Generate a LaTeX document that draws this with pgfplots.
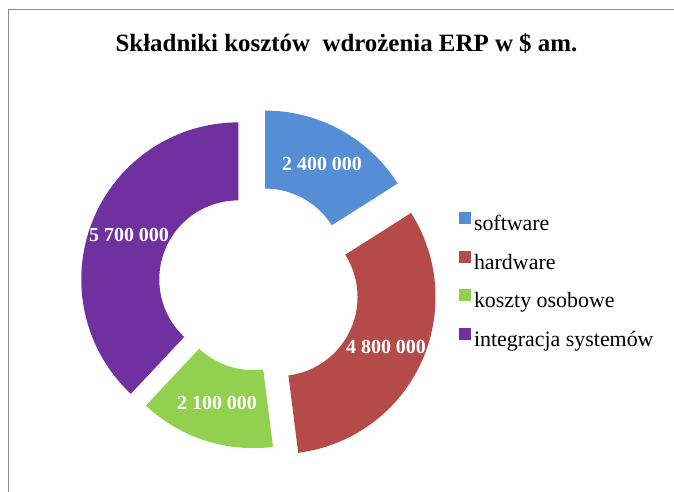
\documentclass[border=0pt]{standalone}
\usepackage{fontspec}
\setmainfont{Liberation Serif}
\usepackage{pgfplots}
\pgfplotsset{compat=1.18}
\definecolor{cSoft}{HTML}{558ED5}
\definecolor{cHard}{HTML}{B54B48}
\definecolor{cOsob}{HTML}{92D050}
\definecolor{cInt}{HTML}{7030A0}
\definecolor{frameGray}{HTML}{8C8C8C}
% data (USD)
\newcommand\vS{2400000}% software
\newcommand\vH{4800000}% hardware
\newcommand\vK{2100000}% koszty osobowe
\newcommand\vI{5700000}% integracja systemow
\newcommand\T{(\vS+\vH+\vK+\vI)}
% geometry (bp)
\newcommand\cx{255}
\newcommand\cy{206}
\newcommand\Ro{157}
\newcommand\Ri{79}
% #1 cumulative before, #2 value, #3 explode, #4 colour, #5 legend text
\newcommand{\slice}[5]{%
\addplot[fill=#4, draw=none, domain=0:2, samples=121,
  legend image code/.code={\fill[#4] (0bp,1bp) rectangle (12bp,13bp);}]
 ({\cx + #3*cos(90-180*(2*(#1)+(#2))/\T) + ifthenelse(x<0.99,\Ro,\Ri)*cos(90-360*((#1)+(#2)*ifthenelse(x<0.99,min(x/0.98,1),2-x))/\T)},
  {\cy + #3*sin(90-180*(2*(#1)+(#2))/\T) + ifthenelse(x<0.99,\Ro,\Ri)*sin(90-360*((#1)+(#2)*ifthenelse(x<0.99,min(x/0.98,1),2-x))/\T)});
\addlegendentry{#5}}
\begin{document}
\begin{tikzpicture}
\path[use as bounding box] (0,0) rectangle (674bp,492bp);
\begin{axis}[
  x=1bp, y=1bp, xmin=0, xmax=674, ymin=0, ymax=492,
  hide axis, clip=false, anchor=south west, at={(0,0)},
  legend cell align=left,
  legend style={at={(axis cs:459,280)}, anchor=north west, draw=none, fill=none,
    inner sep=0pt, outer sep=0pt, font=\fontsize{22}{26}\selectfont,
    row sep=15bp, column sep=3bp,
    nodes={inner sep=0pt, text height=16bp, text depth=5bp}},
]
\slice{0}{\vS}{21}{cSoft}{software}
\slice{\vS}{\vH}{26}{cHard}{hardware}
\slice{\vS+\vH}{\vK}{5.4}{cOsob}{koszty osobowe}
\slice{\vS+\vH+\vK}{\vI}{18}{cInt}{integracja systemów}
\draw[frameGray, line width=1.8bp] (axis cs:8.5,0) -- (axis cs:8.5,482.5) -- (axis cs:674,482.5);
\node[anchor=base, font=\bfseries\fontsize{25}{30}\selectfont] at (axis cs:346.5,440) {Składniki kosztów~ wdrożenia ERP w \$ am.};
\begin{scope}[every node/.style={text=white, font=\bfseries\fontsize{20}{24}\selectfont, inner sep=0pt}]
\node at (axis cs:322,328) {2 400 000};
\node at (axis cs:386,145) {4 800 000};
\node at (axis cs:217,89) {2 100 000};
\node at (axis cs:129,257) {5 700 000};
\end{scope}
\end{axis}
\end{tikzpicture}
\end{document}
